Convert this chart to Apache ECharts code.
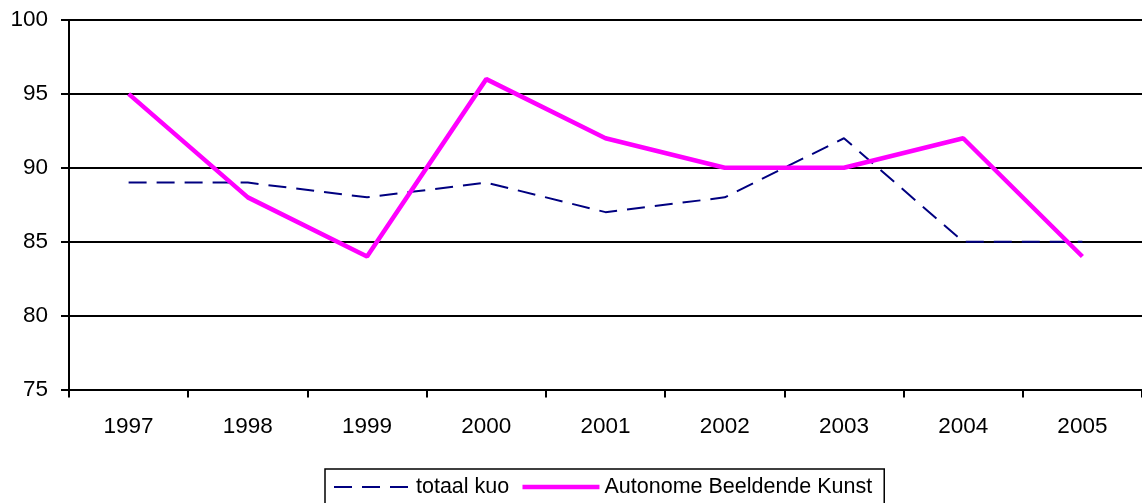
<!DOCTYPE html>
<html><head><meta charset="utf-8">
<script src="https://cdn.jsdelivr.net/npm/echarts@6/dist/echarts.min.js"></script>
<style>html,body{margin:0;padding:0;background:#fff}#c{width:1142px;height:503px}</style>
</head><body><div id="c"></div>
<script>
const categories = ['1997','1998','1999','2000','2001','2002','2003','2004','2005'];
const totaalKuo = [89, 89, 88, 89, 87, 88, 92, 85, 85];
const autonomeBK = [95, 88, 84, 96, 92, 90, 90, 92, 84];
const seriesNames = ['totaal kuo', 'Autonome Beeldende Kunst'];

const chart = echarts.init(document.getElementById('c'));
const font = 'Arial, "Liberation Sans", sans-serif';
chart.setOption({
  animation: false,
  grid: { left: 69, right: -2, top: 20, bottom: 113.5, containLabel: false },
  legend: {
    top: 469, left: 325,
    data: seriesNames,
    borderColor: '#000', borderWidth: 1.5, borderRadius: 0,
    padding: [7, 12, 20, 8],
    itemWidth: 77, itemHeight: 14, itemGap: 11,
    itemStyle: { opacity: 0 },
    lineStyle: { width: 'inherit' },
    textStyle: { fontFamily: font, fontSize: 21.5, color: '#000' }
  },
  xAxis: {
    type: 'category', data: categories, boundaryGap: true,
    axisLine: { lineStyle: { color: '#000', width: 2 } },
    axisTick: { show: true, length: 8, lineStyle: { color: '#000', width: 2 } },
    axisLabel: { fontFamily: font, fontSize: 22.5, color: '#000', margin: 26 },
    splitLine: { show: false }
  },
  yAxis: {
    type: 'value', min: 75, max: 100, interval: 5,
    axisLine: { show: true, lineStyle: { color: '#000', width: 2 } },
    axisTick: { show: true, length: 8, lineStyle: { color: '#000', width: 2 } },
    axisLabel: { fontFamily: font, fontSize: 22.5, color: '#000', margin: 21 },
    splitLine: { show: true, lineStyle: { color: '#000', width: 2 } }
  },
  series: [
    { name: seriesNames[0], type: 'line', data: totaalKuo, symbol: 'none',
      lineStyle: { color: '#000080', width: 2, type: [18, 10] }, itemStyle: { color: '#000080' } },
    { name: seriesNames[1], type: 'line', data: autonomeBK, symbol: 'none',
      lineStyle: { color: '#FF00FF', width: 4.5 }, itemStyle: { color: '#FF00FF' } }
  ]
});
</script></body></html>
